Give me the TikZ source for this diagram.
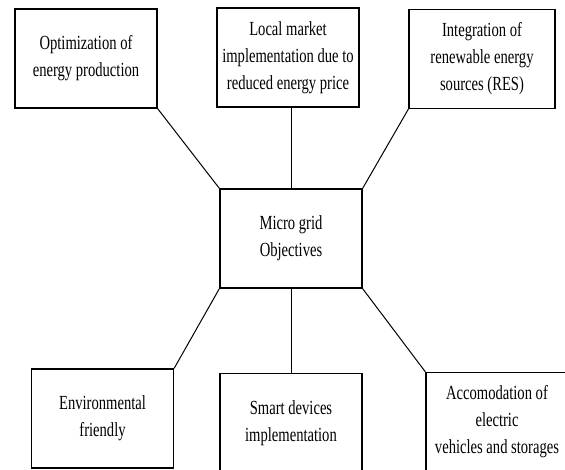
\documentclass[tikz,border=0pt]{standalone}
\usepackage{fontspec}
\setmainfont{Liberation Serif}[FakeStretch=0.73]
\tikzset{
	goalbox/.style={draw,line width=1.3pt,minimum width=142pt,minimum height=99pt,inner sep=0pt,align=center,font=\fontsize{20}{27}\selectfont},
	link/.style={line width=1pt}
}
\begin{document}
\begin{tikzpicture}[x=1pt,y=-1pt]
	\clip (0,0) rectangle (565,469);
	\fill[white] (0,0) rectangle (565,469);
	\node[goalbox](mg) at (291,238.5) {Micro grid\\Objectives};
	\node[goalbox](opt) at (86,58.5) {Optimization of\\energy production};
	\node[goalbox](lm) at (288,57.5) {Local market\\implementation due to\\reduced energy price};
	\node[goalbox,minimum width=146pt](res) at (482,59) {Integration of\\renewable energy\\sources (RES)};
	\node[goalbox](env) at (102.5,418.5) {Environmental\\friendly};
	\node[goalbox](sd) at (291,423) {Smart devices\\implementation};
	\node[goalbox](ev) at (497,422) {Accomodation of\\electric\\vehicles and storages};
	\draw[link](mg.north west)--(opt.south east);
	\draw[link](mg.north)--(mg.north |- lm.south);
	\draw[link](mg.north east)--(res.south west);
	\draw[link](mg.south west)--(env.north east);
	\draw[link](mg.south)--(mg.south |- sd.north);
	\draw[link](mg.south east)--(ev.north west);
\end{tikzpicture}
\end{document}
